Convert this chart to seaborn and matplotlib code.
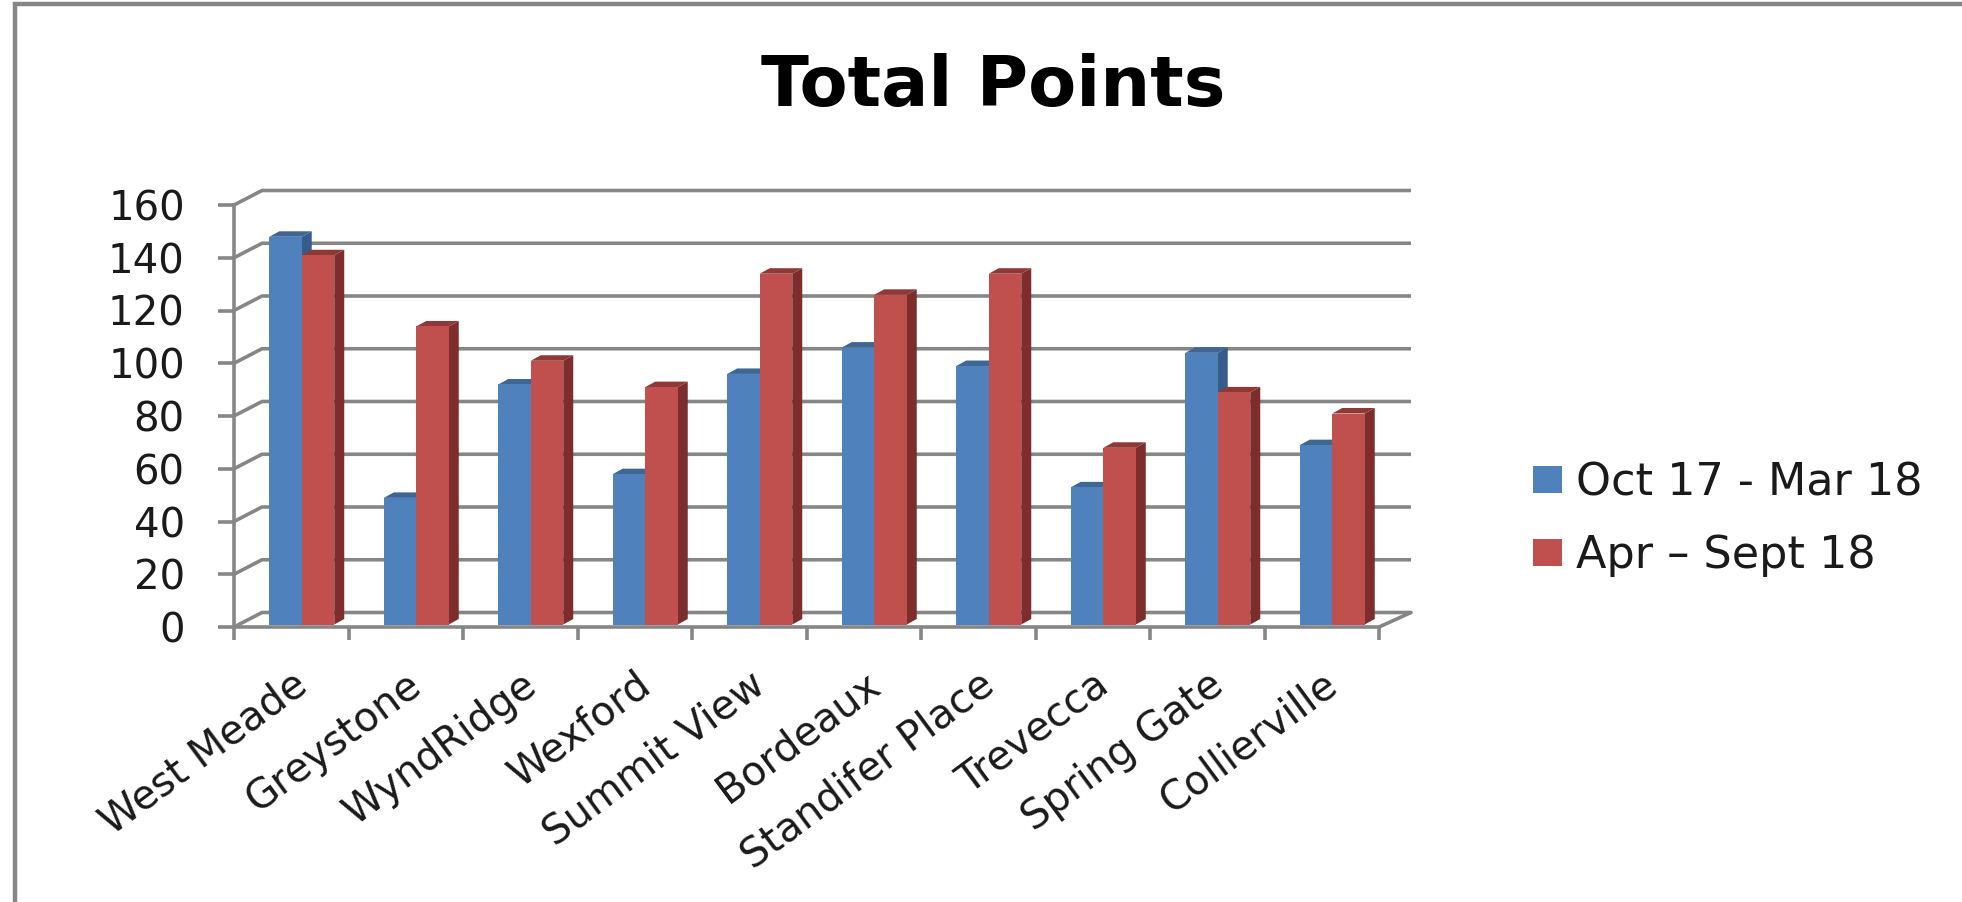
import matplotlib
matplotlib.use("Agg")
import matplotlib.pyplot as plt
from matplotlib.lines import Line2D
from matplotlib.patches import Polygon
import pandas as pd
import seaborn as sns

sites = ["West Meade", "Greystone", "WyndRidge", "Wexford", "Summit View",
         "Bordeaux", "Standifer Place", "Trevecca", "Spring Gate", "Collierville"]
oct_mar = [147, 48, 91, 57, 95, 105, 98, 52, 103, 68]
apr_sep = [140, 113, 100, 90, 133, 125, 133, 67, 88, 80]
period_names = ["Oct 17 - Mar 18", "Apr – Sept 18"]
y_ticks = list(range(0, 161, 20))

W, H = 1962, 902
GRAY = "#868686"
BLUE, RED = "#4F81BD", "#C0504D"
SIDE = {BLUE: "#375C89", RED: "#7D2E2C"}
TOP = {BLUE: "#3E6796", RED: "#8F3835"}

df = pd.DataFrame({
    "Site": sites * 2,
    "Points": oct_mar + apr_sep,
    "Period": [period_names[0]] * 10 + [period_names[1]] * 10,
})

sns.set_theme(style="white")
plt.rcParams["font.family"] = ["DejaVu Sans"]
fig = plt.figure(figsize=(W / 100, H / 100), dpi=100, facecolor="white")

L, R, T, B = 234, 1379, 205, 627
rect = [L / W, (H - B) / H, (R - L) / W, (B - T) / H]
ax = fig.add_axes(rect, facecolor="none", zorder=1)
ax.set_xlim(0, 10)
ax.set_ylim(0, 160)
px_x = 10 / (R - L)
px_y = 160 / (B - T)

# frame walls: back gridlines and left wall diagonals
dx, dy = 28 * px_x, 14.5 * px_y
end = 10 + 32 * px_x
lw = 3.6 * 0.72
for v in y_ticks:
    ax.plot([0, dx, end], [v, v + dy, v + dy], color=GRAY, lw=lw, clip_on=False,
            solid_capstyle="butt", zorder=1)
ax.plot([10, end], [0, dy], color=GRAY, lw=lw, clip_on=False, zorder=1)

for s in ["top", "right"]:
    ax.spines[s].set_visible(False)
for s in ["left", "bottom"]:
    ax.spines[s].set_color(GRAY)
    ax.spines[s].set_linewidth(lw)
ax.set_yticks(y_ticks)
ax.set_xticks(range(11))
ax.set_xticklabels([])
ax.set_xticks([i + 0.5 for i in range(10)], minor=True)
ax.set_xticklabels(sites, minor=True, rotation=36.5, ha="right", va="top",
                   rotation_mode="anchor", fontsize=29, color="#1a1a1a")
ax.tick_params(axis="y", which="major", length=11.5, width=lw, color=GRAY,
               labelsize=29, labelcolor="#1a1a1a", pad=24, left=True)
ax.tick_params(axis="x", which="major", length=9.5, width=lw, color=GRAY, bottom=True)
ax.tick_params(axis="x", which="minor", length=0, pad=27)

# bars on an overlay with the same scale, shifted onto the floor of the chart
ax2 = fig.add_axes(rect, facecolor="none", zorder=2)
shift = 10.5 * px_x
sns.barplot(data=df, x="Site", y="Points", hue="Period", order=sites,
            hue_order=period_names, palette=[BLUE, RED], width=65 / 114.5, gap=0,
            saturation=1, dodge=True, linewidth=0, ax=ax2, zorder=3)
ax2.set_xlim(-0.5 - shift, 9.5 - shift)
ax2.set_ylim(-2.5 * px_y, 160 - 2.5 * px_y)
ax2.axis("off")

bdx, bdy = 10 * px_x, 5.5 * px_y
n = len(sites)
bars = [b for c in ax2.containers for b in c]
for i, b in enumerate(bars):
    col = BLUE if i < n else RED
    x, w, h = b.get_x(), b.get_width(), b.get_height()
    z = 3 + x * 0.01 + (0.001 if i >= n else 0)
    b.set_zorder(z + 0.002)
    ax2.add_patch(Polygon([(x + w, 0), (x + w + bdx, bdy), (x + w + bdx, h + bdy), (x + w, h)],
                          closed=True, fc=SIDE[col], ec="none", zorder=z))
    ax2.add_patch(Polygon([(x, h), (x + bdx, h + bdy), (x + w + bdx, h + bdy), (x + w, h)],
                          closed=True, fc=TOP[col], ec="none", zorder=z))

handles, labels = ax2.get_legend_handles_labels()
ax2.legend(handles, labels, loc="upper left", bbox_to_anchor=(1533 / W, (H - 461) / H),
           bbox_transform=fig.transFigure, frameon=False, fontsize=32,
           handlelength=0.65, handleheight=0.55, handletextpad=0.32, labelspacing=0.68,
           borderpad=0, borderaxespad=0, labelcolor="#1a1a1a")

fig.text(993 / W, (H - 106) / H, "Total Points", ha="center", va="baseline",
         fontsize=50.5, fontweight="bold", family="DejaVu Sans", color="black")

# outer border of the original picture
fig.add_artist(Line2D([14.5 / W, 14.5 / W, 1], [0, (H - 4) / H, (H - 4) / H],
                      transform=fig.transFigure, color="#868686", lw=3.2,
                      solid_joinstyle="miter"))

fig.savefig("out.png", dpi=100, facecolor="white")
